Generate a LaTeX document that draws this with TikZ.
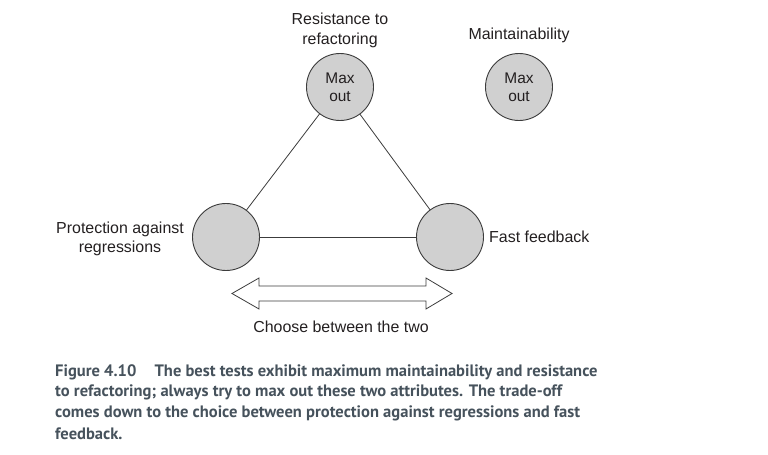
\documentclass[tikz,border=0pt]{standalone}
\usepackage{fontspec}
\setmainfont{Liberation Sans}
\newfontfamily\capfont{PT Sans}
\definecolor{capcol}{RGB}{70,82,92}
\definecolor{circfill}{RGB}{208,208,208}
\definecolor{circline}{RGB}{60,60,60}
\definecolor{txt}{RGB}{35,31,32}
\begin{document}
\begin{tikzpicture}[x=1bp,y=-1bp,
  attr/.style={circle,draw=circline,fill=circfill,line width=0.9bp,minimum size=67bp,inner sep=0pt,align=center,text=txt,font=\fontsize{15.5}{18.5}\selectfont},
  lbl/.style={align=center,text=txt,inner sep=0pt,font=\fontsize{16}{19.5}\selectfont},
  edge/.style={draw=circline,line width=0.8bp},
  capline/.style={anchor=west,inner sep=0pt,text=capcol,font=\capfont\bfseries\fontsize{16.6}{20}\selectfont}]
\useasboundingbox (0,0) rectangle (768,455);
\node[attr] (res) at (340,87) {Max\\out};
\node[attr] (mnt) at (519,87) {Max\\out};
\node[attr] (prot) at (226,237) {};
\node[attr] (fast) at (450,237) {};
\draw[edge] (res) -- (prot);
\draw[edge] (res) -- (fast);
\draw[edge] (prot) -- (fast);
\node[lbl] (reslbl) at (340,30.5) {Resistance to\\refactoring};
\node[lbl] (mntlbl) at (519,35) {Maintainability};
\node[lbl] (protlbl) at (120,239) {Protection against\\regressions};
\node[lbl,anchor=west] (fastlbl) at (489,237) {Fast feedback};
\node[lbl] (choose) at (341,327) {Choose between the two};
\coordinate (al) at (232,293.5);
\coordinate (ar) at (452,293.5);
\draw[edge,fill=white,line join=miter] (al) -- (259,278) -- (259,286) -- (426,286) -- (426,278) -- (ar) -- (426,309) -- (426,301) -- (259,301) -- (259,309) -- cycle;
\node[capline] (c1) at (55,372) {Figure 4.10\hspace{1.1em}The best tests exhibit maximum maintainability and resistance};
\node[capline] (c2) at (55,392.5) {to refactoring; always try to max out these two attributes. The trade-off};
\node[capline] (c3) at (55,413) {comes down to the choice between protection against regressions and fast};
\node[capline] (c4) at (55,433.5) {feedback.};
\end{tikzpicture}
\end{document}
